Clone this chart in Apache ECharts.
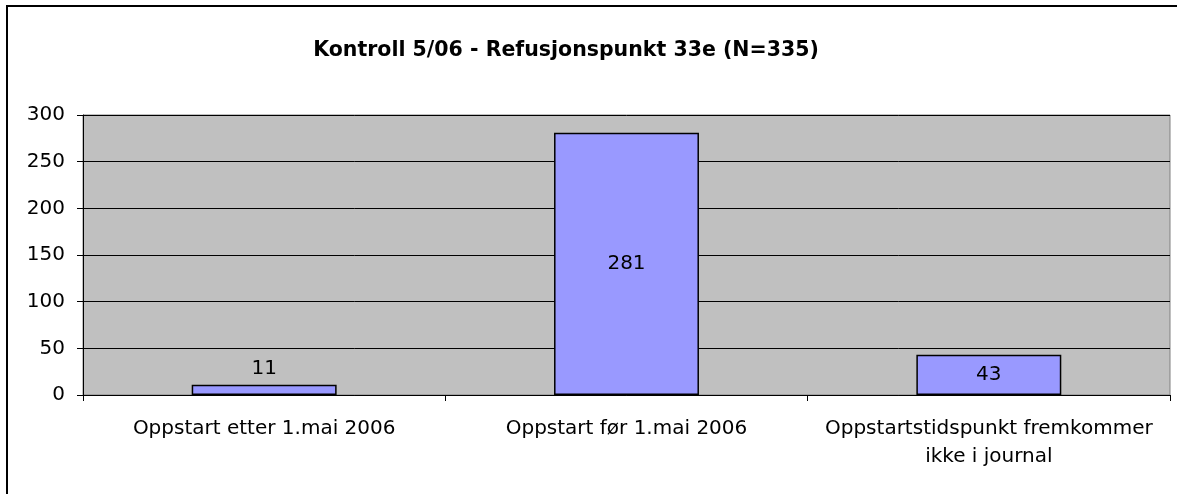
<!DOCTYPE html>
<html>
<head>
<meta charset="utf-8">
<script src="https://cdn.jsdelivr.net/npm/echarts@6/dist/echarts.min.js"></script>
<style>
  html, body { margin: 0; padding: 0; background: #fff; }
  #chart { width: 1177px; height: 494px; }
</style>
</head>
<body>
<div id="chart"></div>
<script>
var categories = [
  'Oppstart etter 1.mai 2006',
  'Oppstart før 1.mai 2006',
  'Oppstartstidspunkt fremkommer\nikke i journal'
]
var values = [11, 281, 43]
var labelPositions = ['top', 'inside', 'inside']
var titleText = 'Kontroll 5/06 - Refusjonspunkt 33e (N=335)'

var chart = echarts.init(document.getElementById('chart'))
var fontName = 'DejaVu Sans'

var option = {
  animation: false,
  backgroundColor: '#ffffff',
  title: {
    text: titleText,
    left: 561,
    textAlign: 'center',
    top: 35,
    textStyle: {
      fontFamily: fontName,
      fontWeight: 'bold',
      fontSize: 20.5,
      color: '#000'
    }
  },
  // chart frame, cut off on the right and bottom like the source image
  graphic: [{
    type: 'polyline',
    silent: true,
    shape: { points: [[7, 700], [7, 6], [1400, 6]] },
    style: { fill: 'none', stroke: '#000', lineWidth: 2 }
  }],
  grid: {
    show: true,
    left: 83,
    top: 115,
    right: 7,
    bottom: 99,
    containLabel: false,
    backgroundColor: '#c0c0c0',
    borderColor: '#808080',
    borderWidth: 1
  },
  xAxis: {
    type: 'category',
    data: categories,
    axisLine: { show: true, lineStyle: { color: '#000', width: 1 } },
    axisTick: { show: true, alignWithLabel: false, length: 6, lineStyle: { color: '#000' } },
    axisLabel: {
      interval: 0,
      margin: 20,
      color: '#000',
      fontFamily: fontName,
      fontSize: 20,
      lineHeight: 28
    },
    splitLine: { show: false }
  },
  yAxis: {
    type: 'value',
    min: 0,
    max: 300,
    interval: 50,
    axisLine: { show: true, lineStyle: { color: '#000', width: 1 } },
    axisTick: { show: true, length: 6, lineStyle: { color: '#000' } },
    axisLabel: {
      margin: 18,
      color: '#000',
      fontFamily: fontName,
      fontSize: 20
    },
    splitLine: { show: true, lineStyle: { color: '#000', width: 1 } }
  },
  series: [{
    type: 'bar',
    barWidth: '40%',
    data: values.map(function (v, i) {
      return {
        value: v,
        label: { position: labelPositions[i] }
      }
    }),
    itemStyle: {
      color: '#9999ff',
      borderColor: '#000',
      borderWidth: 1.5
    },
    label: {
      show: true,
      color: '#000',
      fontFamily: fontName,
      fontSize: 20,
      distance: 6
    }
  }]
}

chart.setOption(option)
</script>
</body>
</html>
